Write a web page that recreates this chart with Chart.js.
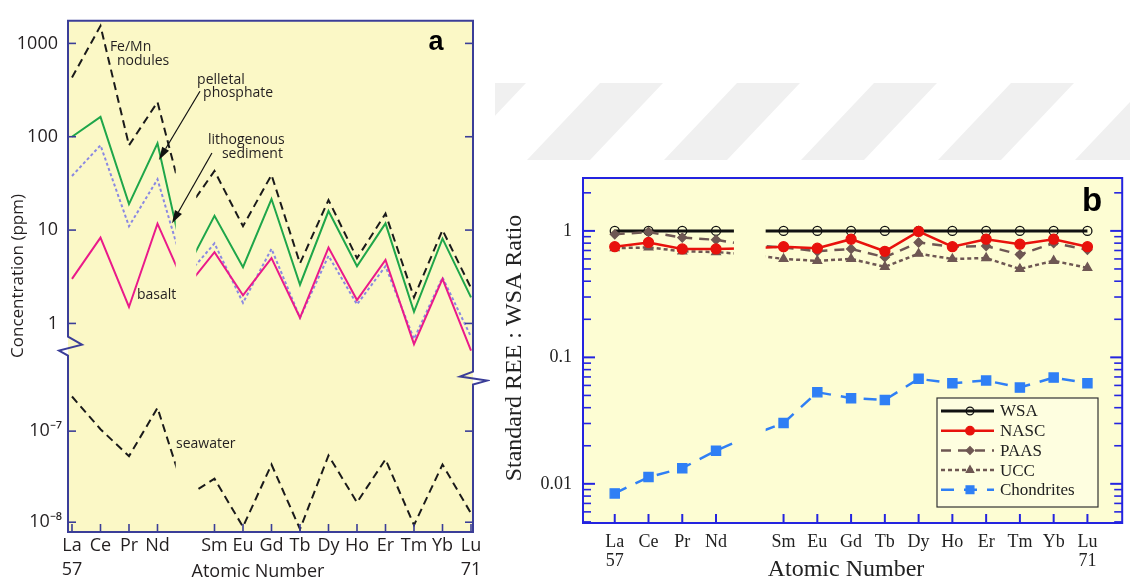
<!DOCTYPE html>
<html>
<head>
<meta charset="utf-8">
<script src="https://cdn.jsdelivr.net/npm/chart.js@4.4.1/dist/chart.umd.min.js"></script>
<style>
html, body { margin: 0; padding: 0; background: #fff; }
body { width: 1130px; height: 585px; position: relative; overflow: hidden; }
canvas { position: absolute; top: 0; }
#mark { left: 0; }
#chartA { left: 0; }
#chartB { left: 490px; }
</style>
</head>
<body>
<canvas id="mark" width="1130" height="585"></canvas>
<canvas id="chartA" width="490" height="585"></canvas>
<canvas id="chartB" width="640" height="585"></canvas>
<script>
// rare earth elements, La (57) .. Lu (71); Pm is not plotted
var elements = ['La', 'Ce', 'Pr', 'Nd', 'Pm', 'Sm', 'Eu', 'Gd', 'Tb', 'Dy', 'Ho', 'Er', 'Tm', 'Yb', 'Lu'];
var atomicNumbers = [57, 58, 59, 60, 61, 62, 63, 64, 65, 66, 67, 68, 69, 70, 71];
var tickNumbers = [57, 58, 59, 60, 62, 63, 64, 65, 66, 67, 68, 69, 70, 71];

// panel a : concentration (ppm)
var feMnNodules = [430, 1540, 81, 235, 15.7, 43, 11, 39, 4.4, 21, 5.0, 15, 1.9, 10, 2.4];
var pelletalPhosphate = [100, 163, 19, 85, 3.7, 14.2, 4.0, 21.5, 2.6, 16, 4.1, 11.8, 1.33, 8.1, 1.9];
var lithogenousSediment = [38, 81, 11, 35, 3.2, 7.2, 1.66, 6.3, 1.15, 5.3, 1.6, 4.1, 0.68, 3.1, 0.72];
var basalt = [3.0, 8.3, 1.5, 11.7, 2.4, 5.8, 2.0, 5.0, 1.15, 6.5, 1.78, 4.8, 0.6, 3.0, 0.51];
var seawater = [2.4e-7, 1.05e-7, 5.3e-8, 1.8e-7, 1.9e-8, 3.0e-8, 8.9e-9, 4.3e-8, 8.4e-9, 5.4e-8, 1.65e-8, 4.9e-8, 9.3e-9, 4.3e-8, 1.25e-8];
var upperTicksA = [1, 10, 100, 1000];
var lowerTicksA = [1e-8, 1e-7];
var lowerLabelsA = ['10\u207B\u2078', '10\u207B\u2077'];

// panel b : standard REE / WSA ratio
var wsa = [1, 1, 1, 1, 1, 1, 1, 1, 1, 1, 1, 1, 1, 1, 1];
var nasc = [0.75, 0.81, 0.72, 0.72, 0.73, 0.75, 0.73, 0.86, 0.69, 0.99, 0.75, 0.86, 0.785, 0.86, 0.75];
var paas = [0.94, 0.98, 0.885, 0.85, 0.77, 0.74, 0.69, 0.72, 0.62, 0.81, 0.75, 0.76, 0.65, 0.80, 0.71];
var ucc = [0.73, 0.74, 0.69, 0.68, 0.65, 0.60, 0.58, 0.60, 0.52, 0.66, 0.60, 0.61, 0.50, 0.58, 0.51];
var chondrites = [0.0084, 0.0113, 0.0133, 0.0183, 0.024, 0.0302, 0.053, 0.0476, 0.0461, 0.0676, 0.0625, 0.0656, 0.0577, 0.0692, 0.0625];
var majorTicksB = [0.01, 0.1, 1];
var majorLabelsB = ['0.01', '0.1', '1'];
var minorTicksB = [0.005, 0.006, 0.007, 0.008, 0.009, 0.02, 0.03, 0.04, 0.05, 0.06, 0.07, 0.08, 0.09,
                   0.2, 0.3, 0.4, 0.5, 0.6, 0.7, 0.8, 0.9, 2];

var SANS = '"Open Sans", "Liberation Sans", sans-serif';
var SERIF = '"Liberation Serif", "Times New Roman", serif';

// faint watermark stripes behind the figure
(function () {
  var ctx = document.getElementById('mark').getContext('2d');
  ctx.save();
  ctx.beginPath();
  ctx.rect(495, 83, 635, 77);
  ctx.clip();
  ctx.fillStyle = '#f0f0f0';
  for (var k = -1; k < 6; k++) {
    var o = k * 137;
    ctx.beginPath();
    ctx.moveTo(527 + o, 160); ctx.lineTo(590 + o, 160);
    ctx.lineTo(663 + o, 83); ctx.lineTo(600 + o, 83);
    ctx.closePath(); ctx.fill();
  }
  ctx.restore();
})();

function pts(values) {
  return values.map(function (v, i) { return { x: atomicNumbers[i], y: v }; });
}

function elementLabel(value) {
  var i = atomicNumbers.indexOf(value);
  if (i === 0 || i === atomicNumbers.length - 1) return [elements[i], String(value)];
  return elements[i];
}

// hide the lines around Pm, as in the original figure
function clipPm(chart, half) {
  var ctx = chart.ctx, sx = chart.scales.x;
  var l = sx.getPixelForValue(61 - half), r = sx.getPixelForValue(61 + half);
  ctx.save();
  ctx.beginPath();
  ctx.rect(0, 0, l, chart.height);
  ctx.rect(r, 0, chart.width - r, chart.height);
  ctx.clip();
}

function line(ctx, x1, y1, x2, y2) {
  ctx.beginPath(); ctx.moveTo(x1, y1); ctx.lineTo(x2, y2); ctx.stroke();
}

function arrow(ctx, x1, y1, x2, y2) {
  var ang = Math.atan2(y2 - y1, x2 - x1), len = 13, w = 4;
  ctx.beginPath(); ctx.moveTo(x1, y1);
  ctx.lineTo(x2 - Math.cos(ang) * len, y2 - Math.sin(ang) * len); ctx.stroke();
  ctx.beginPath();
  ctx.moveTo(x2, y2);
  ctx.lineTo(x2 - Math.cos(ang) * len - Math.sin(ang) * w, y2 - Math.sin(ang) * len + Math.cos(ang) * w);
  ctx.lineTo(x2 - Math.cos(ang) * len + Math.sin(ang) * w, y2 - Math.sin(ang) * len - Math.cos(ang) * w);
  ctx.closePath(); ctx.fill();
}

// text notes of panel a, in data units (atomic number, ppm)
var notesA = [
  ['Fe/Mn', 58.33, 910, 'yTop'], ['nodules', 58.58, 649, 'yTop'],
  ['pelletal', 61.39, 410, 'yTop'], ['phosphate', 61.6, 292, 'yTop'],
  ['lithogenous', 61.77, 91.7, 'yTop'], ['sediment', 62.26, 65.3, 'yTop'],
  ['basalt', 59.28, 2.0, 'yTop'], ['seawater', 60.65, 7.24e-8, 'yBot']
];
var arrowsA = [[61.49, 307, 60.05, 56.5], [61.91, 67, 60.51, 11.8]];

var panelA = {
  id: 'panelA',
  beforeDraw: function (chart) {
    var a = chart.chartArea, ctx = chart.ctx;
    ctx.save();
    ctx.fillStyle = '#fbf8c6';
    ctx.fillRect(a.left, a.top, a.right - a.left, a.bottom - a.top);
    ctx.restore();
  },
  beforeDatasetsDraw: function (chart) { clipPm(chart, 0.36); },
  afterDatasetsDraw: function (chart) {
    var ctx = chart.ctx, a = chart.chartArea;
    ctx.restore();
    var sx = chart.scales.x, yTop = chart.scales.yTop, yBot = chart.scales.yBot;
    var split = yTop.bottom;
    ctx.save();
    ctx.strokeStyle = '#3b3e98';
    ctx.lineWidth = 2;
    ctx.lineJoin = 'miter';
    // frame with the axis breaks
    var ry = split + 19, ly = split - 16;
    ctx.beginPath();
    ctx.moveTo(a.left, a.top);
    ctx.lineTo(a.right, a.top);
    ctx.lineTo(a.right, ry - 9);
    ctx.lineTo(a.right - 13, ry - 4);
    ctx.lineTo(a.right + 14, ry);
    ctx.lineTo(a.right, ry + 4);
    ctx.lineTo(a.right, a.bottom);
    ctx.lineTo(a.left, a.bottom);
    ctx.lineTo(a.left, ly + 10);
    ctx.lineTo(a.left - 9, ly + 5);
    ctx.lineTo(a.left + 14, ly - 1);
    ctx.lineTo(a.left, ly - 9);
    ctx.closePath();
    ctx.stroke();
    ctx.lineWidth = 1.6;
    upperTicksA.forEach(function (v) {
      var y = yTop.getPixelForValue(v);
      line(ctx, a.left, y, a.left + 8, y); line(ctx, a.right - 8, y, a.right, y);
    });
    lowerTicksA.forEach(function (v) {
      var y = yBot.getPixelForValue(v);
      line(ctx, a.left, y, a.left + 8, y); line(ctx, a.right - 8, y, a.right, y);
    });
    tickNumbers.forEach(function (n) {
      var x = sx.getPixelForValue(n);
      line(ctx, x, a.bottom, x, a.bottom - 8);
    });
    // notes and arrows
    ctx.fillStyle = '#231f20';
    ctx.font = '14px ' + SANS;
    ctx.textBaseline = 'middle';
    ctx.textAlign = 'left';
    notesA.forEach(function (n) {
      ctx.fillText(n[0], sx.getPixelForValue(n[1]), chart.scales[n[3]].getPixelForValue(n[2]));
    });
    ctx.strokeStyle = '#111'; ctx.fillStyle = '#111'; ctx.lineWidth = 1.2;
    arrowsA.forEach(function (r) {
      arrow(ctx, sx.getPixelForValue(r[0]), yTop.getPixelForValue(r[1]),
                 sx.getPixelForValue(r[2]), yTop.getPixelForValue(r[3]));
    });
    // panel letter and axis titles
    ctx.fillStyle = '#000';
    ctx.font = 'bold 27px "Liberation Sans", Arial, sans-serif';
    ctx.textAlign = 'center';
    ctx.textBaseline = 'alphabetic';
    ctx.fillText('a', a.right - 37, a.top + 29);
    ctx.fillStyle = '#231f20';
    ctx.font = '18px ' + SANS;
    ctx.textBaseline = 'middle';
    ctx.fillText('Atomic Number', 258, 572);
    ctx.translate(18, 276);
    ctx.rotate(-Math.PI / 2);
    ctx.font = '17px ' + SANS;
    ctx.fillText('Concentration (ppm)', 0, 0);
    ctx.restore();
  }
};

var panelB = {
  id: 'panelB',
  beforeDraw: function (chart) {
    var a = chart.chartArea, ctx = chart.ctx;
    ctx.save();
    ctx.fillStyle = '#fdfdd3';
    ctx.fillRect(a.left, a.top, a.right - a.left, a.bottom - a.top);
    ctx.restore();
  },
  beforeDatasetsDraw: function (chart) { clipPm(chart, 0.47); },
  afterDatasetsDraw: function (chart) {
    var ctx = chart.ctx, a = chart.chartArea;
    ctx.restore();
    var sx = chart.scales.x, sy = chart.scales.y;
    ctx.save();
    ctx.strokeStyle = '#2424e0';
    ctx.lineWidth = 2;
    ctx.strokeRect(a.left, a.top, a.right - a.left, a.bottom - a.top);
    ctx.lineWidth = 2;
    majorTicksB.forEach(function (v) {
      var y = sy.getPixelForValue(v);
      line(ctx, a.left, y, a.left + 12, y); line(ctx, a.right - 12, y, a.right, y);
    });
    ctx.lineWidth = 1.6;
    minorTicksB.forEach(function (v) {
      var y = sy.getPixelForValue(v);
      line(ctx, a.left, y, a.left + 8, y); line(ctx, a.right - 8, y, a.right, y);
    });
    ctx.lineWidth = 2;
    tickNumbers.forEach(function (n) {
      var x = sx.getPixelForValue(n);
      line(ctx, x, a.bottom, x, a.bottom - 9);
    });
    // legend
    var lx = 447, ly = 398, lw = 161, lh = 109;
    ctx.fillStyle = '#fefee0';
    ctx.fillRect(lx, ly, lw, lh);
    ctx.strokeStyle = '#333';
    ctx.lineWidth = 1.2;
    ctx.strokeRect(lx, ly, lw, lh);
    chart.data.datasets.forEach(function (ds, i) {
      var y = ly + 13 + i * 19.7;
      ctx.save();
      ctx.strokeStyle = ds.borderColor;
      ctx.lineWidth = ds.borderWidth;
      ctx.setLineDash(ds.borderDash || []);
      line(ctx, lx + 4, y, lx + 57, y);
      ctx.restore();
      ctx.save();
      ctx.fillStyle = ds.pointBackgroundColor;
      ctx.strokeStyle = ds.pointBorderColor;
      ctx.lineWidth = ds.pointBorderWidth;
      Chart.helpers.drawPoint(ctx, { pointStyle: ds.pointStyle, radius: ds.pointRadius * 0.85, rotation: 0, borderWidth: ds.pointBorderWidth }, lx + 33, y);
      ctx.restore();
      ctx.fillStyle = '#222';
      ctx.font = '17px ' + SERIF;
      ctx.textAlign = 'left';
      ctx.textBaseline = 'middle';
      ctx.fillText(ds.label, lx + 63, y + 1);
    });
    // panel letter and axis titles
    ctx.fillStyle = '#000';
    ctx.font = 'bold 33px "Liberation Sans", Arial, sans-serif';
    ctx.textAlign = 'center';
    ctx.textBaseline = 'alphabetic';
    ctx.fillText('b', a.right - 30, a.top + 33);
    ctx.fillStyle = '#222';
    ctx.font = '24px ' + SERIF;
    ctx.textBaseline = 'middle';
    ctx.fillText('Atomic Number', 356, 570);
    ctx.translate(25, 348);
    ctx.rotate(-Math.PI / 2);
    ctx.font = '24px ' + SERIF;
    ctx.fillText('Standard REE : WSA Ratio', 0, 0);
    ctx.restore();
  }
};

function lineSet(label, values, color, dash, axis, order) {
  return {
    label: label, data: pts(values), yAxisID: axis, order: order,
    borderColor: color, borderWidth: 2, borderDash: dash,
    pointRadius: 0, tension: 0, fill: false
  };
}

new Chart(document.getElementById('chartA'), {
  type: 'line',
  data: {
    datasets: [
      lineSet('Fe/Mn nodules', feMnNodules, '#1a1a1a', [8, 5], 'yTop', 3),
      lineSet('pelletal phosphate', pelletalPhosphate, '#1fa64a', [], 'yTop', 0),
      lineSet('lithogenous sediment', lithogenousSediment, '#8a88e2', [3, 2.5], 'yTop', 2),
      lineSet('basalt', basalt, '#ea1a8a', [], 'yTop', 1),
      lineSet('seawater', seawater, '#1a1a1a', [8, 5], 'yBot', 4)
    ]
  },
  options: {
    responsive: false,
    animation: false,
    layout: { padding: { top: 10, right: 17, left: 0, bottom: 0 } },
    plugins: { legend: { display: false }, tooltip: { enabled: false } },
    scales: {
      x: {
        type: 'linear', position: 'bottom', min: 56.86, max: 71.07,
        grid: { display: false, drawTicks: false }, border: { display: false },
        afterFit: function (s) { s.height = 53; },
        afterBuildTicks: function (s) { s.ticks = tickNumbers.map(function (v) { return { value: v }; }); },
        ticks: {
          autoSkip: false, maxRotation: 0, padding: 2, color: '#231f20',
          font: { family: SANS, size: 18, lineHeight: 1.33 },
          callback: function (v) { return elementLabel(v); }
        }
      },
      // stacked left axes: the one declared last is placed on top
      yBot: {
        type: 'logarithmic', position: 'left', stack: 'conc', stackWeight: 174,
        min: 7.81e-9, max: 5.8e-7,
        grid: { display: false, drawTicks: false }, border: { display: false },
        afterFit: function (s) { s.width = 68; },
        afterBuildTicks: function (s) { s.ticks = lowerTicksA.map(function (v) { return { value: v }; }); },
        ticks: {
          padding: 6, color: '#231f20', font: { family: SANS, size: 18 },
          callback: function (v) { return lowerLabelsA[lowerTicksA.indexOf(v)]; }
        }
      },
      yTop: {
        type: 'logarithmic', position: 'left', stack: 'conc', stackWeight: 348,
        min: 0.39, max: 1746,
        grid: { display: false, drawTicks: false }, border: { display: false },
        afterFit: function (s) { s.width = 68; },
        afterBuildTicks: function (s) { s.ticks = upperTicksA.map(function (v) { return { value: v }; }); },
        ticks: {
          padding: 10, color: '#231f20', font: { family: SANS, size: 18 },
          callback: function (v) { return String(v); }
        }
      }
    }
  },
  plugins: [panelA]
});

function markSet(label, values, color, dash, width, style, radius, fillColor, order) {
  return {
    label: label, data: pts(values), order: order,
    borderColor: color, borderWidth: width, borderDash: dash, tension: 0, fill: false,
    pointStyle: style, pointRadius: radius, pointBackgroundColor: fillColor,
    pointBorderColor: color, pointBorderWidth: 1.3
  };
}

new Chart(document.getElementById('chartB'), {
  type: 'line',
  data: {
    datasets: [
      markSet('WSA', wsa, '#111111', [], 3, 'circle', 4.5, 'rgba(0,0,0,0)', 4),
      markSet('NASC', nasc, '#e8120c', [], 2.5, 'circle', 5, '#e8120c', 0),
      markSet('PAAS', paas, '#6e5753', [10, 7], 2.5, 'rectRot', 4.5, '#6e5753', 2),
      markSet('UCC', ucc, '#6e5753', [4, 3], 2.5, 'triangle', 5, '#6e5753', 3),
      markSet('Chondrites', chondrites, '#2f7ff5', [13, 10], 2.5, 'rect', 6.5, '#2f7ff5', 1)
    ]
  },
  options: {
    responsive: false,
    animation: false,
    layout: { padding: { top: 178, right: 3, left: 0, bottom: 0 } },
    plugins: { legend: { display: false }, tooltip: { enabled: false } },
    scales: {
      x: {
        type: 'linear', position: 'bottom', min: 56.06, max: 72.03,
        grid: { display: false, drawTicks: false }, border: { display: false },
        afterFit: function (s) { s.height = 62; },
        afterBuildTicks: function (s) { s.ticks = tickNumbers.map(function (v) { return { value: v }; }); },
        ticks: {
          autoSkip: false, maxRotation: 0, padding: 9, color: '#222',
          font: { family: SERIF, size: 18, lineHeight: 1.1 },
          callback: function (v) { return elementLabel(v); }
        }
      },
      y: {
        type: 'logarithmic', position: 'left', min: 0.0049, max: 2.62,
        grid: { display: false, drawTicks: false }, border: { display: false },
        afterFit: function (s) { s.width = 93; },
        afterBuildTicks: function (s) { s.ticks = majorTicksB.map(function (v) { return { value: v }; }); },
        ticks: {
          padding: 11, color: '#222', font: { family: SERIF, size: 18 },
          callback: function (v) { return majorLabelsB[majorTicksB.indexOf(v)]; }
        }
      }
    }
  },
  plugins: [panelB]
});
</script>
</body>
</html>
